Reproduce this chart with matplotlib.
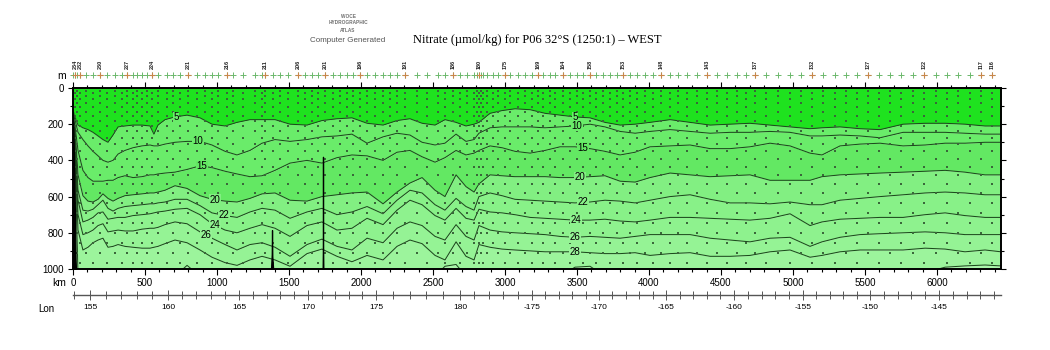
import numpy as np
import matplotlib
matplotlib.use("Agg")
import matplotlib.pyplot as plt
from matplotlib.ticker import FixedLocator, FuncFormatter, MultipleLocator
from matplotlib.transforms import blended_transform_factory

plt.rcParams['font.family'] = ['Liberation Sans', 'DejaVu Sans']

# ---------------------------------------------------------------------------
# Section data: depth (m) of each nitrate isoline along the section (km)
# ---------------------------------------------------------------------------
dist_km = np.array([
    0, 14, 35, 69, 104, 139, 174, 208, 243, 278,
    313, 361, 417, 479, 535, 562, 590, 639, 708, 792,
    882, 965, 1056, 1139, 1229, 1313, 1403, 1507, 1625, 1729,
    1833, 1937, 2042, 2153, 2250, 2340, 2424, 2514, 2583, 2660,
    2729, 2785, 2819, 2896, 2979, 3069, 3174, 3278, 3382, 3486,
    3590, 3694, 3799, 3903, 4007, 4146, 4285, 4424, 4563, 4701,
    4840, 4979, 5118, 5201, 5326, 5465, 5604, 5764, 5917, 6056,
    6194, 6333, 6444])

nitrate_levels = [5, 10, 15, 20, 22, 24, 26, 28, 30]

depth_05 = [135, 160, 205, 220, 230, 245, 265, 285, 300, 260,
            215, 210, 205, 205, 210, 255, 205, 175, 160, 150,
            165, 200, 210, 190, 175, 175, 175, 200, 205, 180,
            170, 165, 195, 205, 180, 170, 195, 205, 175, 190,
            210, 200, 190, 140, 125, 115, 120, 140, 150, 160,
            165, 190, 205, 200, 190, 175, 190, 205, 200, 195,
            205, 215, 225, 220, 215, 225, 230, 200, 195, 195,
            200, 210, 210]
depth_10 = [145, 175, 245, 285, 320, 350, 375, 400, 410, 400,
            365, 345, 330, 320, 315, 320, 320, 310, 300, 295,
            295, 315, 350, 370, 345, 305, 285, 295, 285, 270,
            265, 255, 305, 270, 250, 260, 300, 315, 305, 255,
            295, 285, 250, 220, 215, 215, 215, 220, 215, 210,
            200, 215, 240, 250, 240, 230, 240, 250, 245, 245,
            240, 245, 265, 265, 260, 265, 275, 245, 245, 245,
            250, 255, 255]
depth_15 = [155, 210, 345, 455, 495, 515, 515, 515, 510, 510,
            495, 485, 495, 490, 480, 480, 475, 470, 465, 450,
            430, 440, 460, 475, 490, 485, 455, 415, 400, 415,
            385, 370, 375, 400, 355, 345, 380, 410, 385, 345,
            370, 360, 345, 320, 330, 350, 360, 345, 325, 325,
            335, 350, 370, 355, 325, 320, 315, 335, 335, 325,
            305, 320, 360, 370, 320, 310, 305, 320, 315, 305,
            305, 300, 300]
depth_20 = [165, 230, 480, 595, 625, 630, 615, 585, 610, 625,
            610, 595, 590, 585, 580, 580, 575, 565, 540, 555,
            595, 615, 625, 630, 610, 585, 580, 620, 625, 600,
            590, 580, 575, 640, 575, 525, 495, 565, 600, 480,
            545, 575, 530, 480, 485, 490, 490, 490, 495, 495,
            490, 485, 515, 520, 495, 470, 480, 490, 485, 480,
            510, 510, 510, 490, 480, 475, 470, 465, 460, 455,
            465, 480, 480]
depth_22 = [175, 260, 565, 675, 680, 670, 645, 620, 665, 680,
            665, 655, 650, 645, 640, 640, 635, 630, 615, 615,
            650, 690, 705, 715, 685, 665, 675, 720, 685, 665,
            700, 685, 655, 695, 620, 565, 580, 645, 675, 610,
            655, 675, 600, 580, 595, 615, 620, 625, 630, 635,
            630, 620, 625, 635, 620, 600, 590, 615, 635, 635,
            640, 630, 645, 645, 620, 610, 600, 590, 580, 575,
            580, 590, 590]
depth_24 = [190, 285, 620, 740, 730, 715, 690, 685, 725, 720,
            715, 715, 705, 700, 695, 690, 685, 680, 670, 665,
            700, 750, 785, 800, 775, 755, 775, 820, 760, 740,
            785, 775, 720, 755, 675, 620, 645, 705, 730, 665,
            720, 730, 670, 685, 690, 700, 715, 720, 725, 730,
            730, 725, 735, 740, 730, 715, 715, 720, 725, 730,
            720, 695, 760, 740, 725, 720, 715, 715, 700, 690,
            705, 715, 715]
depth_26 = [200, 315, 700, 810, 800, 785, 760, 750, 795, 790,
            785, 790, 790, 780, 775, 775, 770, 755, 740, 750,
            795, 830, 865, 895, 865, 855, 880, 930, 865, 835,
            875, 895, 830, 855, 775, 740, 760, 820, 840, 755,
            820, 840, 760, 785, 795, 800, 805, 810, 820, 825,
            820, 825, 830, 820, 810, 810, 810, 830, 840, 850,
            830, 825, 875, 850, 825, 810, 805, 800, 795, 800,
            810, 810, 810]
depth_28 = [210, 345, 785, 895, 880, 855, 840, 830, 880, 875,
            865, 875, 880, 885, 885, 880, 875, 860, 840, 855,
            895, 935, 965, 980, 950, 930, 950, 985, 915, 890,
            930, 960, 925, 950, 875, 840, 860, 925, 950, 850,
            930, 950, 865, 880, 890, 895, 900, 905, 905, 905,
            910, 915, 915, 910, 925, 915, 910, 930, 930, 925,
            905, 895, 935, 925, 905, 895, 895, 895, 885, 890,
            905, 895, 905]
depth_30 = [220, 370, 1040, 1040, 1040, 1040, 1040, 1040, 1040, 1040,
            1040, 1040, 1040, 1040, 1040, 1040, 1040, 1040, 1040, 980,
            1040, 1040, 1040, 1040, 1040, 1040, 1040, 1040, 1040, 1040,
            1040, 1040, 1040, 1040, 1040, 1040, 1040, 1040, 985, 975,
            1040, 1040, 1040, 1040, 1040, 1040, 1040, 1040, 1040, 990,
            985, 1040, 1040, 1040, 1040, 1040, 1040, 1040, 1040, 1040,
            1040, 1040, 1040, 1040, 1040, 1040, 1040, 1040, 1020, 990,
            983, 978, 983]

isolines = [depth_05, depth_10, depth_15, depth_20, depth_22,
            depth_24, depth_26, depth_28, depth_30]

# fill colour of each nitrate class, surface class first
band_colors = ['#1fe21f', '#6aec6a', '#6aec6a', '#63e863', '#82ef82',
               '#88f188', '#8ef28e', '#95f395', '#9cf49c', '#aaf6aa']

# sea floor (km, m)
bottom_km = [0, 10, 18, 26, 1368, 1376, 1380, 1382, 1384, 1389, 1396,
             1732, 1735, 1736, 1737, 1740, 6444]
bottom_m = [130, 500, 950, 1100, 1100, 985, 920, 785, 930, 990, 1100,
            1100, 900, 380, 900, 1100, 1100]

# station positions (km) and the numbered ones
station_km = [0, 14, 28, 49, 90, 139, 187, 236, 292, 340, 375, 417, 444, 479,
              514, 549, 590, 653, 694, 743, 799, 861, 917, 965, 1007, 1069,
              1111, 1181, 1264, 1312, 1333, 1389, 1437, 1493, 1562, 1611,
              1660, 1701, 1750, 1805, 1854, 1903, 1944, 1993, 2042, 2097,
              2153, 2201, 2250, 2305, 2389, 2458, 2535, 2583, 2639, 2687,
              2736, 2785, 2805, 2819, 2833, 2847, 2875, 2917, 2951, 3000,
              3035, 3090, 3139, 3187, 3229, 3264, 3312, 3347, 3403, 3451,
              3500, 3541, 3590, 3632, 3680, 3729, 3778, 3819, 3868, 3917,
              3972, 4028, 4083, 4146, 4201, 4264, 4333, 4403, 4472, 4541,
              4611, 4673, 4736, 4812, 4896, 4979, 5055, 5132, 5208, 5291,
              5368, 5444, 5520, 5597, 5673, 5750, 5833, 5909, 5993, 6069,
              6146, 6229, 6305, 6382]
station_label_km = [14, 49, 187, 375, 549, 799, 1069, 1333, 1562, 1750, 1993,
                    2305, 2639, 2819, 3000, 3229, 3403, 3590, 3819, 4083,
                    4403, 4736, 5132, 5520, 5909, 6305, 6382]
station_label_txt = ['234', '232', '230', '227', '224', '221', '216', '211',
                     '206', '201', '196', '191', '186', '180', '175', '169',
                     '164', '158', '153', '148', '143', '137', '132', '127',
                     '122', '117', '116']

# bottle depths (m), alternating casts
bottle_m_a = [15, 45, 85, 130, 180, 240, 310, 390, 480, 580, 690, 800, 910]
bottle_m_b = [25, 60, 105, 155, 210, 275, 350, 435, 530, 635, 745, 855, 965]

# longitude along the track (degrees east, unwrapped) against distance
lon_deg = [155, 160, 165, 170, 175, 180, 185, 190, 195, 200, 205, 210, 215]
lon_km = [118, 660, 1153, 1632, 2104, 2687, 3187, 3653, 4118, 4590, 5069,
          5535, 6014]

# contour labels
clabel_level = [5, 10, 15, 20, 22, 24, 26, 5, 10, 15, 20, 22, 24, 26, 28]
clabel_km = [715, 868, 896, 986, 1049, 986, 924,
             3486, 3500, 3541, 3521, 3541, 3493, 3486, 3486]

# ---------------------------------------------------------------------------
fig = plt.figure(figsize=(10.5, 3.5), dpi=100)
ax = fig.add_axes([73 / 1050, 1 - 269 / 350, 928 / 1050, 181 / 350])

x_max = dist_km[-1]
ax.set_xlim(0, x_max)
ax.set_ylim(1000, 0)

# filled classes
upper = np.zeros_like(dist_km, dtype=float)
for i, iso in enumerate(isolines):
    ax.fill_between(dist_km, upper, iso, color=band_colors[i], lw=0, zorder=1)
    upper = np.asarray(iso, float)
ax.fill_between(dist_km, upper, 1100, color=band_colors[-1], lw=0, zorder=1)

# isolines
for iso in isolines:
    ax.plot(dist_km, iso, color='#1d4a1d', lw=0.75, zorder=2)

# bottle positions
floor_at_station = np.interp(station_km, bottom_km, bottom_m)
for i, (s, fl) in enumerate(zip(station_km, floor_at_station)):
    bottles = np.array(bottle_m_a if i % 2 == 0 else bottle_m_b)
    bottles = bottles[bottles < fl - 10]
    ax.scatter(np.full(bottles.size, s), bottles, s=0.6, marker='s',
               color='#3a673a', lw=0, zorder=2.5)

# sea floor
ax.fill_between(bottom_km, bottom_m, 1100, color='black', edgecolor='black',
                lw=0.9, zorder=3)

# contour labels
for lev, k in zip(clabel_level, clabel_km):
    idx = nitrate_levels.index(lev)
    d = np.interp(k, dist_km, isolines[idx])
    ax.text(k, d, str(lev), ha='center', va='center', fontsize=7,
            color='black', zorder=4,
            bbox=dict(facecolor=band_colors[idx + 1], edgecolor='none', pad=0.2))

# axes frame and ticks
for sp in ax.spines.values():
    sp.set_linewidth(1.4)
    sp.set_color('black')
    sp.set_zorder(5)

ax.xaxis.set_major_locator(MultipleLocator(500))
ax.xaxis.set_minor_locator(MultipleLocator(100))
ax.yaxis.set_major_locator(MultipleLocator(200))
ax.yaxis.set_minor_locator(MultipleLocator(100))
ax.tick_params(axis='x', which='both', top=True, bottom=True, direction='out',
               labeltop=False, labelsize=7, pad=2.5, width=0.8)
ax.tick_params(axis='x', which='major', length=4)
ax.tick_params(axis='x', which='minor', length=2)
ax.tick_params(axis='y', which='both', left=True, right=True, direction='out',
               labelsize=7, pad=3, width=0.8)
ax.tick_params(axis='y', which='major', length=3.5)
ax.tick_params(axis='y', which='minor', length=2.5)

# longitude scale below the distance axis
lon_deg_arr = np.asarray(lon_deg, float)
lon_km_arr = np.asarray(lon_km, float)


def _extrap(x, xp, fp):
    x = np.asarray(x, float)
    y = np.interp(x, xp, fp)
    s0 = (fp[1] - fp[0]) / (xp[1] - xp[0])
    s1 = (fp[-1] - fp[-2]) / (xp[-1] - xp[-2])
    y = np.where(x < xp[0], fp[0] + (x - xp[0]) * s0, y)
    y = np.where(x > xp[-1], fp[-1] + (x - xp[-1]) * s1, y)
    return y


def km_to_lon(k):
    return _extrap(k, lon_km_arr, lon_deg_arr)


def lon_to_km(lon):
    return _extrap(lon, lon_deg_arr, lon_km_arr)


sec = ax.secondary_xaxis(-26 / 181, functions=(km_to_lon, lon_to_km))
sec.xaxis.set_major_locator(FixedLocator(lon_deg))
sec.xaxis.set_minor_locator(FixedLocator(np.arange(154, 220)))
sec.xaxis.set_major_formatter(
    FuncFormatter(lambda v, p: f"{v:.0f}" if v <= 180 else f"-{360 - v:.0f}"))
sec.spines['bottom'].set_color('#555555')
sec.spines['bottom'].set_linewidth(1.0)
sec.tick_params(which='both', direction='inout', color='#555555', width=0.7,
                labelsize=6, pad=3)
sec.tick_params(which='major', length=7)
sec.tick_params(which='minor', length=6)

# station marks above the frame
tr = blended_transform_factory(ax.transData, ax.transAxes)
ax.plot(station_km, np.full(len(station_km), 1 + 13 / 181), '+', color='#6cb86c',
        ms=3.8, mew=0.7, transform=tr, clip_on=False, zorder=6)
ax.plot(station_label_km, np.full(len(station_label_km), 1 + 13 / 181), '+',
        color='#c8864a', ms=4.2, mew=0.8, transform=tr, clip_on=False, zorder=7)
for k, t in zip(station_label_km, station_label_txt):
    ax.text(k, 1 + 19 / 181, t, rotation=90, ha='center', va='bottom',
            fontsize=4.0, fontweight='bold', color='#222222', transform=tr,
            clip_on=False)

# axis captions
fig.text(66 / 1050, 1 - 76 / 350, 'm', fontsize=7.5, ha='right', va='center')
fig.text(66 / 1050, 1 - 283 / 350, 'km', fontsize=7.5, ha='right', va='center')
fig.text(38 / 1050, 1 - 309 / 350, 'Lon', fontsize=7, ha='left', va='center')

# title and atlas stamp
fig.text(537 / 1050, 1 - 40 / 350,
         'Nitrate (µmol/kg) for P06 32°S (1250:1) – WEST',
         family=['Liberation Serif', 'DejaVu Serif'], fontsize=9,
         ha='center', va='center')
for txt, yy in [('WOCE', 16), ('HYDROGRAPHIC', 23), ('ATLAS', 30)]:
    fig.text(348 / 1050, 1 - yy / 350, txt, fontsize=3.4, fontweight='bold',
             color='#707070', ha='center', va='center')
fig.text(348 / 1050, 1 - 41 / 350, 'Computer Generated', fontsize=5.8,
         color='#555555', ha='center', va='center')

fig.savefig('out.png', dpi=100)
